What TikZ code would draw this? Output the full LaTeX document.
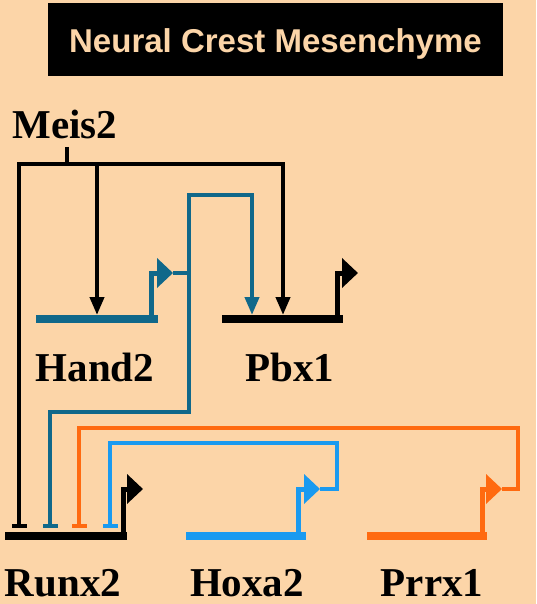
\documentclass[tikz,border=0pt]{standalone}
\usepackage{fontspec}
\setmainfont{Liberation Serif}
\newfontfamily\titlefont{Liberation Sans}
\usetikzlibrary{arrows.meta}
\definecolor{peach}{RGB}{252,213,168}
\definecolor{hteal}{RGB}{16,104,138}
\definecolor{hblue}{RGB}{26,154,240}
\definecolor{horange}{RGB}{255,106,16}
\tikzstyle{gene} = [line width=8pt]
\tikzstyle{tss} = [line width=5pt, -{Triangle[length=16pt,width=29pt]}]
\tikzstyle{link} = [line width=4pt]
\tikzstyle{act} = [link, -{Triangle[length=18pt,width=14pt]}]
\tikzstyle{inh} = [link, -{Bar[width=15pt]}]
\tikzstyle{genelabel} = [inner sep=0pt, anchor=base, font=\fontsize{41}{41}\selectfont\bfseries]

\begin{document}
\begin{tikzpicture}[x=1pt, y=-1pt]

	\fill[peach] (0,0) rectangle (536,604);
	\useasboundingbox (0,0) rectangle (536,604);

	\node (title) [fill=black, text=peach, minimum width=455pt, minimum height=73pt, inner sep=0pt, text height=27pt, text depth=0pt, font=\titlefont\fontsize{33}{33}\selectfont\bfseries] at (275.5,39.5) {Neural Crest Mesenchyme};

	\node (meis2) [genelabel] at (65,139) {Meis2};
	\node (hand2) [genelabel] at (95,381) {Hand2};
	\node (pbx1) [genelabel] at (290,381) {Pbx1};
	\node (runx2) [genelabel] at (63,596) {Runx2};
	\node (hoxa2) [genelabel] at (247,596) {Hoxa2};
	\node (prrx1) [genelabel] at (432,596) {Prrx1};

	\coordinate (meistop) at (67,147);
	\coordinate (meishub) at (67,164);
	\coordinate (hand2tss) at (173,273);
	\coordinate (hand2out) at (189,273);
	\coordinate (pbx1tss) at (358,273);
	\coordinate (runx2tss) at (143,489);
	\coordinate (hoxa2tss) at (320,489);
	\coordinate (prrx1tss) at (502,489);
	\coordinate (hand2in) at (97,315);
	\coordinate (pbx1in1) at (252,315);
	\coordinate (pbx1in2) at (283,315);
	\coordinate (runx2in1) at (19,528);
	\coordinate (runx2in2) at (50,528);
	\coordinate (runx2in3) at (79,528);
	\coordinate (runx2in4) at (110,528);

	% genes and promoters
	\draw [tss, hteal] (151,319) |- (hand2tss);
	\draw [gene, hteal] (36,319) -- (158,319);
	\draw [tss] (337,319) |- (pbx1tss);
	\draw [gene] (222,319) -- (343,319);
	\draw [tss] (123,536) |- (runx2tss);
	\draw [gene] (5,536) -- (127,536);
	\draw [tss, hblue] (298,536) |- (hoxa2tss);
	\draw [gene, hblue] (186,536) -- (306,536);
	\draw [tss, horange] (482,536) |- (prrx1tss);
	\draw [gene, horange] (367,536) -- (487,536);

	% Meis2
	\draw [link] (meistop) -- (meishub);
	\draw [inh] (meishub) -| (runx2in1);
	\draw [act] (meishub) -| (hand2in);
	\draw [act] (meishub) -| (pbx1in2);

	% Hand2
	\draw [link, hteal] (hand2tss) -- (hand2out);
	\draw [act, hteal] (hand2out) -- ++(0,-78) -| (pbx1in1);
	\draw [inh, hteal] (hand2out) -- ++(0,139) -| (runx2in2);

	% Hoxa2, Prrx1
	\draw [inh, hblue] (hoxa2tss) -| ++(17,-46) -| (runx2in4);
	\draw [inh, horange] (prrx1tss) -| ++(16,-61) -| (runx2in3);

\end{tikzpicture}
\end{document}
